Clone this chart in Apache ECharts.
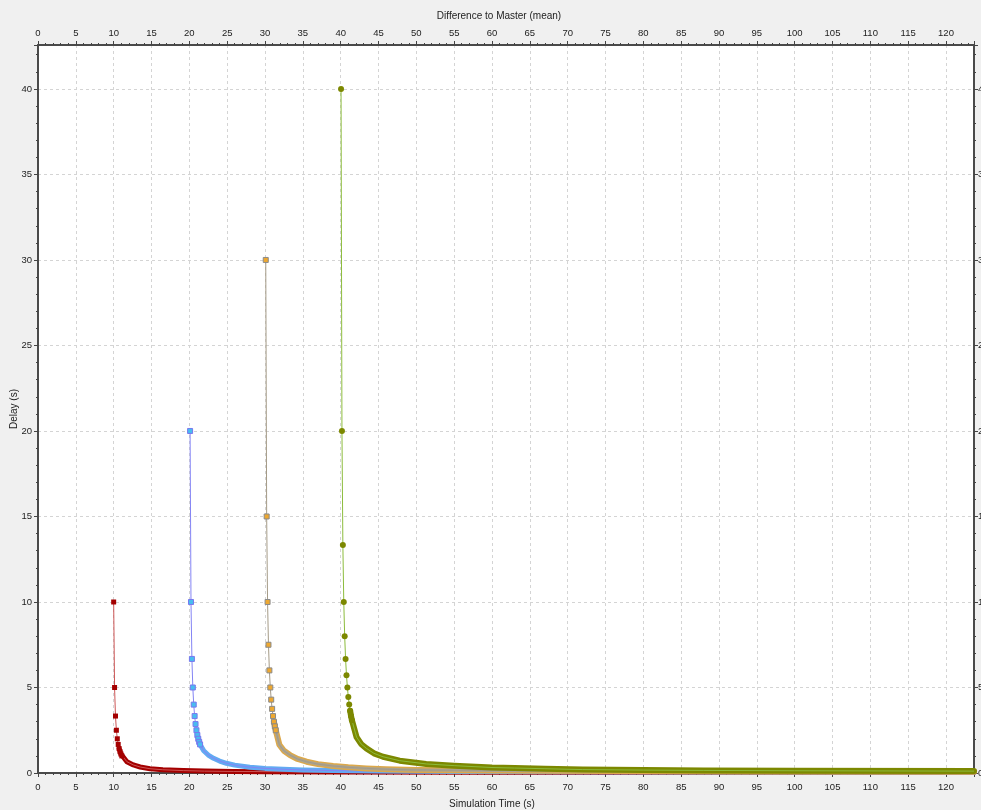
<!DOCTYPE html>
<html>
<head>
<meta charset="utf-8">
<script src="https://cdn.jsdelivr.net/npm/echarts@6/dist/echarts.min.js"></script>
<style>
  html, body { margin: 0; padding: 0; background: #f0f0f0; }
  #chart { width: 981px; height: 810px; }
</style>
</head>
<body>
<div id="chart"></div>
<script>
// Datos (tiempo de simulacion, retardo)
const xTicks = [0, 5, 10, 15, 20, 25, 30, 35, 40, 45, 50, 55, 60, 65, 70, 75, 80, 85, 90, 95, 100, 105, 110, 115, 120];
const yTicks = [0, 5, 10, 15, 20, 25, 30, 35, 40];

// curva roja
const redHeadX = [10.0, 10.12, 10.24, 10.36, 10.48, 10.6, 10.72, 10.84, 10.96, 11.08];
const redHeadY = [10, 5, 3.33, 2.5, 2.0, 1.67, 1.43, 1.25, 1.11, 1.0];
const redTailX = [11.75, 12.6, 13.5, 14.8, 16.5, 19.2, 22, 25.8, 30, 40, 60, 90, 123.7];
const redTailY = [0.66, 0.47, 0.35, 0.25, 0.19, 0.14, 0.11, 0.09, 0.08, 0.06, 0.05, 0.04, 0.03];

// curva azul
const blueHeadX = [20.1, 20.22, 20.34, 20.46, 20.58, 20.7, 20.82, 20.94, 21.06, 21.18, 21.3, 21.42];
const blueHeadY = [20, 10, 6.67, 5, 4, 3.33, 2.86, 2.5, 2.22, 2.0, 1.82, 1.67];
const blueTailX = [21.9, 22.5, 23.2, 24, 24.9, 26, 28, 30, 32.4, 35, 39, 45, 55, 70, 90, 123.7];
const blueTailY = [1.3, 1.05, 0.86, 0.7, 0.57, 0.46, 0.34, 0.27, 0.22, 0.18, 0.14, 0.11, 0.09, 0.07, 0.06, 0.05];

// curva naranja
const orangeHeadX = [30.1, 30.22, 30.34, 30.46, 30.58, 30.7, 30.82, 30.94, 31.06, 31.18, 31.3, 31.42];
const orangeHeadY = [30, 15, 10, 7.5, 6, 5, 4.29, 3.75, 3.33, 3.0, 2.73, 2.5];
const orangeTailX = [31.9, 32.5, 33.3, 34.3, 35.5, 37, 39, 41, 43.4, 46, 50, 60, 75, 95, 123.7];
const orangeTailY = [1.65, 1.3, 1.05, 0.82, 0.66, 0.52, 0.41, 0.33, 0.27, 0.22, 0.18, 0.14, 0.11, 0.09, 0.08];

// curva verde
const greenHeadX = [40.05, 40.17, 40.29, 40.41, 40.53, 40.65, 40.77, 40.89, 41.01, 41.13, 41.25, 41.37, 41.49];
const greenHeadY = [40, 20, 13.33, 10, 8, 6.67, 5.71, 5.0, 4.44, 4.0, 3.64, 3.33, 3.08];
const greenTailX = [42.1, 42.7, 43.4, 44.4, 45.6, 47.8, 51.3, 55, 60, 63, 67, 72, 80, 88, 100, 123.7];
const greenTailY = [2.1, 1.7, 1.44, 1.15, 0.95, 0.72, 0.53, 0.43, 0.32, 0.29, 0.25, 0.2, 0.17, 0.15, 0.13, 0.11];

const X_MAX = 123.7;
const Y_MAX = 42.57;
const FONT = "'Liberation Sans', Arial, sans-serif";

function pairs(xs, ys) {
    return xs.map((x, i) => [x, ys[i]]);
}

// banda gruesa formada por los marcadores solapados
function band(hx, hy, from, tx, ty, color, width) {
    return {
        type: 'line',
        data: pairs(hx.slice(from), hy.slice(from)).concat(pairs(tx, ty)),
        symbol: 'none',
        lineStyle: { color: color, width: width, cap: 'round', join: 'round' },
        silent: true
    };
}

// linea fina con marcadores solo en la cabeza
function curve(hx, hy, tx, ty, lineColor, symbol, size, fill, border) {
    const data = pairs(hx, hy).concat(
        pairs(tx, ty).map(p => ({ value: p, symbol: 'none' }))
    );
    return {
        type: 'line',
        data: data,
        symbol: symbol,
        symbolSize: size,
        showAllSymbol: true,
        lineStyle: { color: lineColor, width: 1 },
        itemStyle: { color: fill, borderColor: border, borderWidth: border ? 1 : 0, opacity: 1 },
        silent: true
    };
}

const axisCommon = {
    type: 'value',
    axisLine: { show: true, onZero: false, lineStyle: { color: '#4a4a4a', width: 2 } },
    axisTick: { show: true, length: 4, lineStyle: { color: '#444' } },
    minorTick: { show: true, splitNumber: 5, length: 2, lineStyle: { color: '#444' } },
    axisLabel: { color: '#222', fontSize: 9.5, fontFamily: FONT, showMaxLabel: false },
    nameTextStyle: { color: '#222', fontSize: 10, fontFamily: FONT }
};

const chart = echarts.init(document.getElementById('chart'));

const option = {
    backgroundColor: '#f0f0f0',
    animation: false,
    grid: {
        left: 38, right: 7, top: 45, bottom: 37,
        outerBoundsMode: 'none', containLabel: false,
        show: true, backgroundColor: '#ffffff', borderWidth: 0
    },
    xAxis: [
        Object.assign({}, axisCommon, {
            position: 'bottom',
            min: 0, max: X_MAX, interval: xTicks[1] - xTicks[0],
            name: 'Simulation Time (s)', nameLocation: 'middle', nameGap: 26,
            nameTextStyle: Object.assign({}, axisCommon.nameTextStyle, { padding: [0, 28, 0, 0] }),
            axisLabel: Object.assign({}, axisCommon.axisLabel, { margin: 9 }),
            splitLine: { show: true, lineStyle: { color: '#d4d4d4', type: [3, 3] } }
        }),
        Object.assign({}, axisCommon, {
            position: 'top',
            min: 0, max: X_MAX, interval: xTicks[1] - xTicks[0],
            name: 'Difference to Master (mean)', nameLocation: 'middle', nameGap: 24,
            nameTextStyle: Object.assign({}, axisCommon.nameTextStyle, { padding: [0, 14, 0, 0] }),
            axisLabel: Object.assign({}, axisCommon.axisLabel, { margin: 7 }),
            splitLine: { show: false }
        })
    ],
    yAxis: [
        Object.assign({}, axisCommon, {
            position: 'left',
            min: 0, max: Y_MAX, interval: yTicks[1] - yTicks[0],
            name: 'Delay (s)', nameLocation: 'middle', nameGap: 19, nameRotate: 90,
            nameMoveOverlap: false,
            axisLabel: Object.assign({}, axisCommon.axisLabel, { margin: 6 }),
            splitLine: { show: true, lineStyle: { color: '#d4d4d4', type: [3, 3] } }
        }),
        Object.assign({}, axisCommon, {
            position: 'right',
            min: 0, max: Y_MAX, interval: yTicks[1] - yTicks[0],
            axisLabel: Object.assign({}, axisCommon.axisLabel, { margin: 4 }),
            splitLine: { show: false }
        })
    ],
    series: [
        band(redHeadX, redHeadY, 6, redTailX, redTailY, '#a40000', 5),
        curve(redHeadX, redHeadY, redTailX, redTailY, '#cc5555', 'rect', 5, '#a40000'),
        band(blueHeadX, blueHeadY, 8, blueTailX, blueTailY, '#62aaf2', 5),
        curve(blueHeadX, blueHeadY, blueTailX, blueTailY, '#8484f4', 'rect', 5, '#48bcf0', '#7878ee'),
        band(orangeHeadX, orangeHeadY, 9, orangeTailX, orangeTailY, '#dca84a', 6),
        band(orangeHeadX, orangeHeadY, 9, orangeTailX, orangeTailY, '#aca490', 3),
        curve(orangeHeadX, orangeHeadY, orangeTailX, orangeTailY, '#a49a86', 'rect', 5, '#eea830', '#8a8a8a'),
        band(greenHeadX, greenHeadY, 10, greenTailX, greenTailY, '#7c8800', 6),
        curve(greenHeadX, greenHeadY, greenTailX, greenTailY, '#8cbc3c', 'circle', 6, '#7c8800')
    ]
};

chart.setOption(option);
</script>
</body>
</html>
